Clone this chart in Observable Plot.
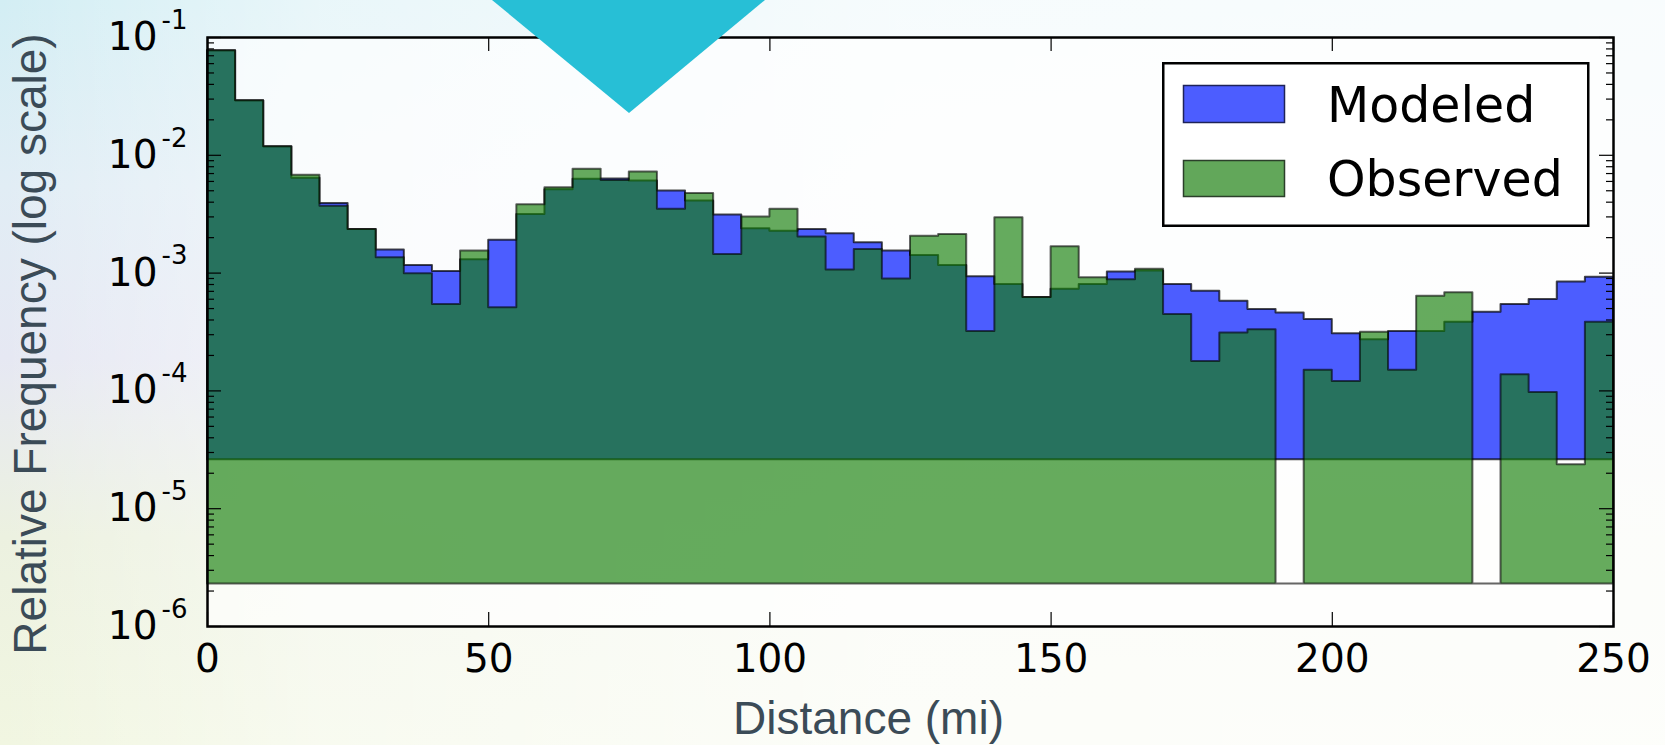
<!DOCTYPE html>
<html>
<head>
<meta charset="utf-8">
<script src="https://cdn.jsdelivr.net/npm/d3@7"></script>
<script src="https://cdn.jsdelivr.net/npm/@observablehq/plot@0.6"></script>
<style>
  html, body { margin: 0; padding: 0; }
  #wrap {
    position: relative; width: 1665px; height: 745px; overflow: hidden;
    background:
      linear-gradient(to right, rgba(255,255,255,0) 0px, rgba(255,255,255,0.5) 320px, rgba(255,255,255,0.8) 900px, rgba(255,255,255,0.85) 1665px),
      linear-gradient(to bottom, #d3eef4 0%, #e1edf5 25%, #e6e8f3 48%, #ecf1e0 72%, #f1f6e1 100%);
  }
  #chart { position: absolute; left: 0; top: 0; }
  #legend { position: absolute; left: 0; top: 0; pointer-events: none; }
  #tri {
    position: absolute; left: 0; top: 0; width: 1665px; height: 745px;
    background: #27bfd6; pointer-events: none;
    clip-path: polygon(492px 0px, 765px 0px, 629px 113px);
  }
</style>
</head>
<body>
<div id="wrap">
  <div id="chart"></div>
  <svg id="legend" width="1665" height="745" font-family="DejaVu Sans">
    <rect x="1163.25" y="63.25" width="425" height="162.5" fill="white" stroke="black" stroke-width="2.5"></rect>
    <rect x="1183.5" y="85.5" width="101" height="37" fill="#4c5dff" stroke="#1e2358" stroke-width="1.5"></rect>
    <rect x="1183.5" y="160.5" width="101" height="36" fill="#62a75a" stroke="#2b3f2a" stroke-width="1.5"></rect>
    <text id="lg1" x="1327" y="122" font-size="49" fill="black"></text>
    <text id="lg2" x="1327" y="196" font-size="49" fill="black"></text>
  </svg>
  <div id="tri"></div>
</div>
<script>
// ---- data ----
const binWidth = 5; // miles per bin, 0..250
const seriesNames = ["Modeled", "Observed"];
const modeled = [
  0.077, 0.029, 0.0118, 0.0064, 0.0039, 0.00235, 0.00157, 0.00116, 0.00103, 0.0013,
  0.0019, 0.00315, 0.0051, 0.00625, 0.0063, 0.00605, 0.00497, 0.00409, 0.00312, 0.00238,
  0.00227, 0.00235, 0.00216, 0.00181, 0.00154, 0.00141, 0.00116, 0.00093, 0.0008, 0.00062,
  0.00073, 0.0008, 0.00102, 0.00104, 0.0008, 0.0007, 0.000577, 0.00049, 0.000459, 0.000403,
  0.000306, 0.000272, 0.00032, 0.00032, 0.000383, 0.000465, 0.00054, 0.000597, 0.00084, 0.00092
];
const observed = [
  0.077, 0.029, 0.0118, 0.00676, 0.0037, 0.00235, 0.00135, 0.000986, 0.00054, 0.00154,
  0.000507, 0.0038, 0.0053, 0.0076, 0.0061, 0.0072, 0.00348, 0.00475, 0.00144, 0.0030,
  0.00348, 0.00203, 0.00106, 0.00159, 0.000893, 0.00206, 0.00213, 0.00032, 0.00295, 0.00062,
  0.00167, 0.000912, 0.00088, 0.00108, 0.000445, 0.000178, 0.00031, 0.000331, 0, 0.00015,
  0.00012, 0.000315, 0.00015, 0.000637, 0.00068, 0, 0.000137, 0.000097, 0.0000236, 0.000382
];
// histogram bottoms used by the log-scale step fills
const modeledFloor = 0.000026;
const observedFloor = 0.0000023;
const xTicks = [0, 50, 100, 150, 200, 250];
const yTicks = [1e-6, 1e-5, 1e-4, 1e-3, 1e-2, 1e-1];
const yMinorMultipliers = [2, 3, 4, 5, 6, 7, 8, 9];
const xLabel = "Distance (mi)";
const yLabel = "Relative Frequency (log scale)";

// ---- build tables ----
function steps(values, floor) {
  const pts = values.map((v, i) => ({x: i * binWidth, v: Math.max(v, floor)}));
  pts.push({x: values.length * binWidth, v: pts[pts.length - 1].v});
  return pts;
}
const modPts = steps(modeled, modeledFloor);
const obsPts = steps(observed, observedFloor);
const yMinor = yTicks.slice(0, -1).flatMap(t => yMinorMultipliers.map(m => t * m));

document.getElementById("lg1").textContent = seriesNames[0];
document.getElementById("lg2").textContent = seriesNames[1];

const W = 1665, H = 745, mL = 207, mR = 52, mT = 37, mB = 119;
const fw = W - mL - mR, fh = H - mT - mB;
const labelColor = "#3b4b57";

const chart = Plot.plot({
  width: W, height: H,
  marginLeft: mL, marginRight: mR, marginTop: mT, marginBottom: mB,
  x: {domain: [0, 250], label: null},
  y: {type: "log", domain: [1e-6, 1e-1], label: null},
  style: {background: "transparent", fontFamily: "DejaVu Sans", overflow: "visible", color: "black"},
  marks: [
    Plot.frame({fill: "white", fillOpacity: 0.65, stroke: "none"}),
    Plot.areaY(modPts, {x: "x", y1: () => modeledFloor, y2: "v", curve: "step-after",
      fill: "#4c5dff", stroke: "black", strokeOpacity: 0.7, strokeWidth: 2}),
    Plot.areaY(obsPts, {x: "x", y1: () => observedFloor, y2: "v", curve: "step-after",
      fill: "#147e08", fillOpacity: 0.65, stroke: "black", strokeOpacity: 0.6, strokeWidth: 2}),
    Plot.tickY(yMinor, {y: d => d, insetRight: fw - 7, stroke: "black", strokeWidth: 1.2}),
    Plot.tickY(yMinor, {y: d => d, insetLeft: fw - 7, stroke: "black", strokeWidth: 1.2}),
    Plot.tickY(yTicks, {y: d => d, insetRight: fw - 14, stroke: "black", strokeWidth: 1.2}),
    Plot.tickY(yTicks, {y: d => d, insetLeft: fw - 14, stroke: "black", strokeWidth: 1.2}),
    Plot.tickX(xTicks, {x: d => d, insetTop: fh - 14, stroke: "black", strokeWidth: 1.2}),
    Plot.tickX(xTicks, {x: d => d, insetBottom: fh - 14, stroke: "black", strokeWidth: 1.2}),
    Plot.frame({stroke: "black", strokeWidth: 2.5}),
    Plot.axisX(xTicks, {tickSize: 0, tickPadding: 18, fontSize: 39, label: null, tickFormat: d => String(d)}),
    Plot.axisY(yTicks, {tickSize: 0, tickPadding: 50, fontSize: 39, label: null, tickFormat: () => "10"}),
    Plot.axisY(yTicks, {tickSize: 0, tickPadding: 46, fontSize: 26, label: null, textAnchor: "start", dy: -17,
      tickFormat: d => "-" + Math.round(-Math.log10(d))}),
    Plot.text([xLabel], {text: d => d, frameAnchor: "bottom", dx: -42, dy: 107, lineAnchor: "bottom",
      fontFamily: "Liberation Sans", fontSize: 46, fill: labelColor}),
    Plot.text([yLabel], {text: d => d, frameAnchor: "left", textAnchor: "middle", rotate: -90, dx: -162, dy: 12,
      lineAnchor: "bottom", fontFamily: "Liberation Sans", fontSize: 46, fill: labelColor})
  ]
});
document.getElementById("chart").appendChild(chart);
</script>
</body>
</html>
